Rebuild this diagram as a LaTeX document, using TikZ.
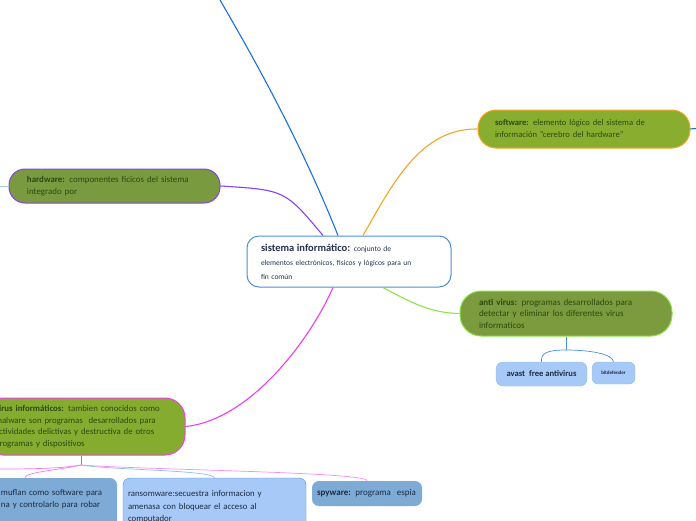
\documentclass[tikz,border=0pt]{standalone}
\usepackage{fontspec}
\setmainfont{Carlito}
\definecolor{leaf}{HTML}{2B4A12}
\definecolor{ink}{HTML}{1C2B40}
\definecolor{navy}{HTML}{24324F}
\definecolor{grassA}{HTML}{89AE2F}
\definecolor{grassB}{HTML}{7A9A40}
\definecolor{grassC}{HTML}{7C9B3E}
\definecolor{grassD}{HTML}{86AC2F}
\definecolor{skyA}{HTML}{A7C9F8}
\definecolor{skyB}{HTML}{7DABD6}
\definecolor{lineblue}{HTML}{1A6FDF}
\definecolor{lineorange}{HTML}{F5A623}
\definecolor{linepurple}{HTML}{8A3FF2}
\definecolor{linegreen}{HTML}{8EE34A}
\definecolor{linepink}{HTML}{F03CF0}
\definecolor{framblue}{HTML}{4A90D9}

\tikzset{
  topic/.style={draw, line width=1pt, align=left, text=leaf, inner ysep=2pt},
  kid/.style={align=left, text=ink, rounded corners=7pt, inner ysep=2pt},
  link/.style={line width=1.1pt},
  twig/.style={line width=0.7pt},
}

\begin{document}
\begin{tikzpicture}[x=1pt,y=-1pt]
\useasboundingbox (0,0) rectangle (696,520);
\clip (0,0) rectangle (696,520);

% main topic
\node[topic, draw=framblue, fill=white, text=navy, rounded corners=12pt,
  minimum width=204pt, minimum height=51pt, text width=176pt, inner xsep=14pt,
  font=\fontsize{7.5}{14}\selectfont] (sis) at (349,261.5)
  {{\fontsize{10.5}{14}\selectfont\bfseries sistema informático:} conjunto de\\elementos electrónicos, fisicos y lógicos para un\\fin común};

% branches
\node[topic, draw=lineorange, fill=grassA, rounded corners=18pt,
  minimum width=212pt, minimum height=38pt, text width=178pt, inner xsep=17pt,
  font=\fontsize{8.6}{12}\selectfont] (soft) at (584,129)
  {\textbf{software:} elemento lógico del sistema de\\información "cerebro del hardware"};

\node[topic, draw=linepurple, fill=grassB, rounded corners=16pt,
  minimum width=211pt, minimum height=34pt, text width=175pt, inner xsep=18pt,
  font=\fontsize{8.9}{12}\selectfont] (hard) at (114.5,186)
  {\textbf{hardware:} componentes ficicos del sistema\\integrado por};

\node[topic, draw=linegreen, fill=grassC, rounded corners=21pt,
  minimum width=212pt, minimum height=45pt, text width=174pt, inner xsep=19pt,
  font=\fontsize{9}{11.5}\selectfont] (anti) at (566,313.5)
  {\textbf{anti virus:} programas desarrollados para\\detectar y eliminar los diferentes virus\\informaticos};

\node[topic, draw=linepink, fill=grassD, rounded corners=20pt,
  minimum width=202pt, minimum height=57pt, text width=178pt, inner xsep=12pt,
  font=\fontsize{8.8}{11.5}\selectfont] (virus) at (84,426.5)
  {\textbf{virus informáticos:} tambien conocidos como\\malware son programas\ \ desarrollados para\\actividades delictivas y destructiva de otros\\programas y dispositivos};

% antivirus examples
\node[kid, draw=framblue!60, fill=skyA, font=\fontsize{8.6}{10}\selectfont\bfseries,
  minimum width=91pt, minimum height=24pt, align=center] (avast) at (541.5,374)
  {avast\ \ free antivirus};
\node[kid, draw=framblue!60, fill=skyA, font=\fontsize{5}{6}\selectfont\bfseries,
  minimum width=43pt, minimum height=22pt, rounded corners=6pt, align=center] (bit) at (613.5,373)
  {bitdefender};

% virus examples
\node[kid, fill=skyB, minimum width=126pt, minimum height=56pt, text width=106pt,
  inner xsep=10pt, font=\fontsize{8.8}{12}\selectfont] (troy) at (54,506)
  {muflan como software para\\na y controlarlo para robar\\\strut};
\node[kid, draw=framblue, fill=skyA, minimum width=183pt, minimum height=58pt, text width=173pt,
  inner xsep=5pt, font=\fontsize{8.8}{12.5}\selectfont] (ransom) at (214.5,507)
  {ransomware:secuestra informacion y\\amenasa con bloquear el acceso al\\computador};
\node[kid, fill=skyB, minimum width=110pt, minimum height=25pt, text width=106pt,
  inner xsep=2pt, font=\fontsize{9}{12}\selectfont] (spy) at (367,493.5)
  {\hspace{3pt}\textbf{spyware:} programa\ \ espia};

% free ends
\coordinate (up) at (220,0);
\coordinate (softout) at (700,128);
\coordinate (hardin) at (-5,186);
\coordinate (avj) at (566,350);
\coordinate (vj) at (81,465);
\coordinate (vout) at (-5,469);

% connectors
\draw[link, lineblue] (up) .. controls (252,55) and (300,140) .. ([xshift=-11pt]sis.north);
\draw[link, linepurple] (hard.east) .. controls (285,190) .. ([xshift=-26pt]sis.north);
\draw[link, lineorange] ([xshift=14pt]sis.north) .. controls (392,185) and (420,128) .. (soft.west);
\draw[link, linegreen] ([xshift=34pt]sis.south) .. controls (410,302) and (430,313) .. (anti.west);
\draw[link, linepink] ([xshift=-16pt]sis.south) .. controls (310,340) and (250,420) .. (virus.east);
\draw[link, lineblue] (soft.east) -- (softout);
\draw[twig, framblue!50] (hardin) -- (hard.west);

\draw[twig, framblue] (anti.south) -- (avj);
\draw[twig, framblue] (avj) .. controls (545,350) and (541,354) .. (avast.north);
\draw[twig, framblue] (avj) .. controls (590,350) and (613,354) .. (bit.north);

\draw[twig, linepink] (virus.south -| vj) -- (vj);
\draw[twig, linepink!70] (vj) .. controls (60,469) and (20,469) .. (vout);
\draw[twig, linepink!70] (vj) .. controls (60,470) and (25,472) .. ([xshift=-29pt]troy.north);
\draw[twig, framblue!60] (vj) .. controls (110,470) and (213,470) .. (ransom.north);
\draw[twig, linepink!60] (vj) .. controls (150,470) and (368,472) .. (spy.north);
\end{tikzpicture}
\end{document}
